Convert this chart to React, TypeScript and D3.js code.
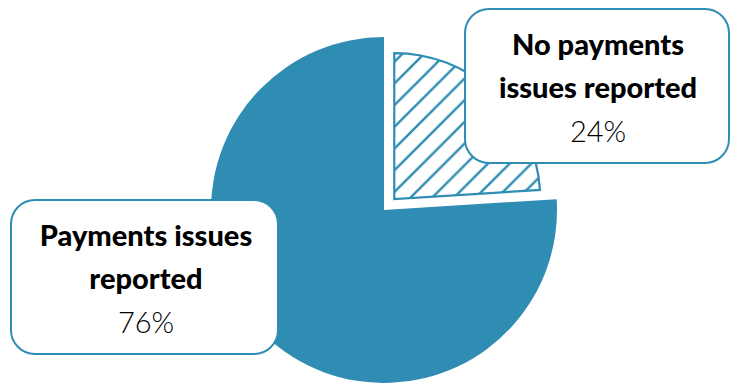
import React from "react";
import * as d3 from "d3";

const categories = ["No payments issues reported", "Payments issues reported"];
const values = [24, 76];
const labelLines = [["No payments", "issues reported"], ["Payments issues", "reported"]];
const percentLabels = ["24%", "76%"];

const W = 731;
const H = 383;
const BLUE = "#2f8cb3";

export default function App() {
  const cx = 384;
  const cy = 210;
  const R = 173;
  const Rh = 146;
  const explode = 15;

  const pie = d3.pie<number>().sort(null).startAngle(0).endAngle(2 * Math.PI);
  const arcs = pie(values);
  const bigArc = d3.arc<d3.PieArcDatum<number>>().innerRadius(0).outerRadius(R);
  const smallArc = d3.arc<d3.PieArcDatum<number>>().innerRadius(0).outerRadius(Rh);

  const a0 = arcs[0];
  const mid = (a0.startAngle + a0.endAngle) / 2;
  const dx = Math.sin(mid) * explode;
  const dy = -Math.cos(mid) * explode;

  const boxes = [
    { x: 465, y: 9, w: 264, h: 154, cxT: 598, y0: 55 },
    { x: 11, y: 200, w: 267, h: 154, cxT: 146, y0: 246 },
  ];

  return (
    <svg width={W} height={H} style={{ position: "absolute", left: 0, top: 0, background: "#fff" }}>
      <defs>
        <pattern id="hatch" patternUnits="userSpaceOnUse" width={21.7} height={21.7} x={14.8} y={0}>
          <path
            d="M-5.4,5.4 L5.4,-5.4 M0,21.7 L21.7,0 M16.3,27.1 L27.1,16.3"
            stroke={BLUE}
            strokeWidth={2.4}
          />
        </pattern>
      </defs>
      <g transform={`translate(${cx},${cy})`}>
        <path d={bigArc(arcs[1]) || ""} fill={BLUE} />
        <g transform={`translate(${dx},${dy})`}>
          <path d={smallArc(a0) || ""} fill="#fff" />
          <path d={smallArc(a0) || ""} fill="url(#hatch)" stroke={BLUE} strokeWidth={2.2} strokeLinejoin="miter" />
        </g>
      </g>
      {boxes.map((b, i) => (
        <g key={categories[i]}>
          <rect x={b.x} y={b.y} width={b.w} height={b.h} rx={24} ry={24} fill="#fff" stroke={BLUE} strokeWidth={2} />
          <text textAnchor="middle" fontFamily="Lato" fontSize={29} fill="#000">
            {labelLines[i].map((l, j) => (
              <tspan key={j} x={b.cxT} y={b.y0 + j * 43} fontWeight={900}>
                {l}
              </tspan>
            ))}
            <tspan x={b.cxT} y={b.y0 + 87} fontWeight={300}>
              {percentLabels[i]}
            </tspan>
          </text>
        </g>
      ))}
    </svg>
  );
}
